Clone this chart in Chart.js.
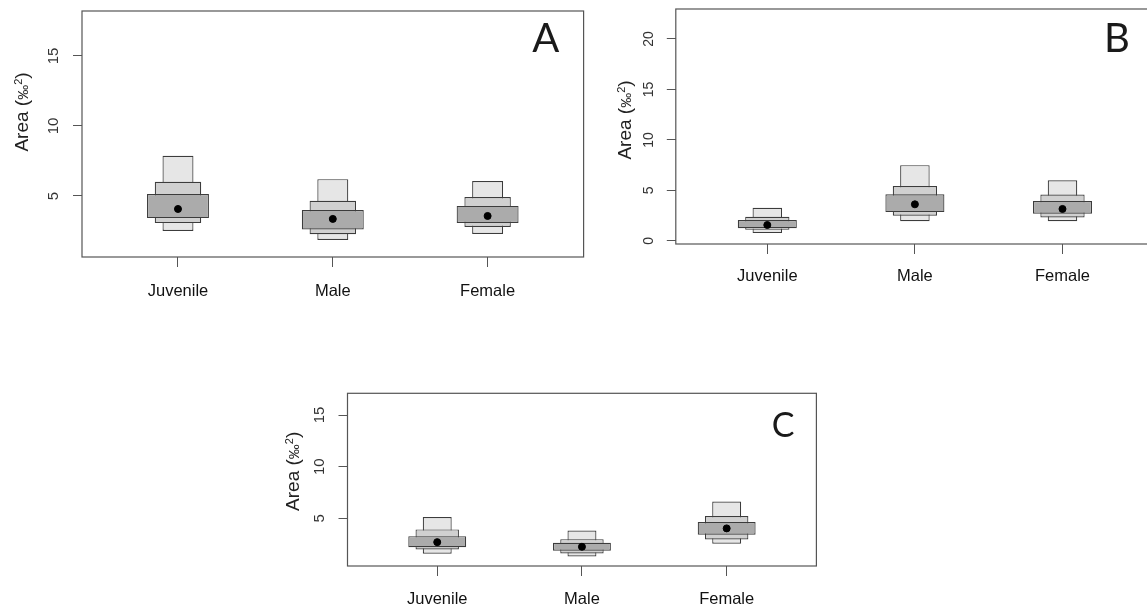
<!DOCTYPE html>
<html>
<head>
<meta charset="utf-8">
<script src="https://cdn.jsdelivr.net/npm/chart.js@4/dist/chart.umd.min.js"></script>
<style>
  body { margin: 0; background: #fff; overflow: hidden; }
  .panel { position: absolute; }
</style>
</head>
<body>
<div class="panel" style="left:0px; top:0px;"><canvas id="chartA" width="600" height="330"></canvas></div>
<div class="panel" style="left:580px; top:0px;"><canvas id="chartB" width="600" height="330"></canvas></div>
<div class="panel" style="left:270px; top:370px;"><canvas id="chartC" width="560" height="240"></canvas></div>
<script>
// categories shared by the three panels
const categories = ['Juvenile', 'Male', 'Female'];

// panel A: credible intervals [low, high] and modes
const a95 = [[2.5, 7.87], [1.86, 6.2], [2.29, 6.06]];
const a75 = [[3.06, 6.01], [2.27, 4.65], [2.79, 4.93]];
const a50 = [[3.42, 5.14], [2.61, 4.0], [3.07, 4.29]];
const aMode = [4.07, 3.36, 3.57];
const aTicks = [5, 10, 15];

// panel B
const b95 = [[0.78, 3.28], [1.95, 7.51], [1.95, 6.02]];
const b75 = [[1.1, 2.4], [2.5, 5.45], [2.33, 4.6]];
const b50 = [[1.27, 2.08], [2.86, 4.62], [2.69, 3.95]];
const bMode = [1.58, 3.63, 3.17];
const bTicks = [0, 5, 10, 15, 20];

// panel C
const c95 = [[1.57, 5.13], [1.31, 3.83], [2.54, 6.62]];
const c75 = [[1.99, 3.93], [1.6, 2.99], [2.96, 5.22]];
const c50 = [[2.21, 3.28], [1.86, 2.64], [3.42, 4.64]];
const cMode = [2.7, 2.25, 4.03];
const cTicks = [5, 10, 15];

// y axis title pieces: "Area (‰²)"
const yTitleParts = ['Area (', '‰', '2', ')'];

Chart.defaults.font.family = '"Liberation Sans", Arial, sans-serif';
Chart.defaults.color = '#333';

const framePlugin = {
    id: 'frame',
    afterDraw(chart, args, opts) {
        const { ctx, chartArea: a } = chart;
        ctx.save();
        ctx.strokeStyle = '#555';
        ctx.lineWidth = 1.2;
        ctx.strokeRect(a.left, a.top, a.right - a.left, a.bottom - a.top);

        // panel letter
        ctx.font = opts.size + 'px Lato, "Open Sans", sans-serif';
        ctx.fillStyle = '#1a1a1a';
        ctx.textAlign = 'center';
        ctx.textBaseline = 'alphabetic';
        ctx.fillText(opts.letter, a.right - opts.dx, a.top + opts.dy);

        // rotated axis title with small per-mille sign and superscript
        const fam = '"Liberation Sans", Arial, sans-serif';
        const pieces = [
            { t: yTitleParts[0], size: 19, rise: 0 },
            { t: yTitleParts[1], size: 15, rise: 0 },
            { t: yTitleParts[2], size: 11, rise: 6 },
            { t: yTitleParts[3], size: 19, rise: 0 }
        ];
        let total = 0;
        pieces.forEach(p => { ctx.font = p.size + 'px ' + fam; p.w = ctx.measureText(p.t).width; total += p.w; });
        ctx.translate(opts.titleX, a.top + opts.titleY);
        ctx.rotate(-Math.PI / 2);
        ctx.fillStyle = '#222';
        ctx.textAlign = 'left';
        ctx.textBaseline = 'alphabetic';
        let x = -total / 2;
        pieces.forEach(p => {
            ctx.font = p.size + 'px ' + fam;
            ctx.fillText(p.t, x, 7 - p.rise);
            x += p.w;
        });
        ctx.restore();
    }
};

function boxes(arr) {
    return arr.map((r, i) => ({ x: i + 1, y: r }));
}

function makePanel(id, d, s) {
    const boxStyle = { type: 'bar', grouped: false, categoryPercentage: 1, borderWidth: 1.2, borderColor: '#3c3c3c', borderSkipped: false };
    new Chart(document.getElementById(id), {
        type: 'bar',
        data: {
            datasets: [
                { type: 'scatter', data: d.mode.map((v, i) => ({ x: i + 1, y: v })), pointRadius: 3.5, pointBackgroundColor: '#000', pointBorderColor: '#000', order: 0 },
                Object.assign({}, boxStyle, { data: boxes(d.b50), barPercentage: 0.4, backgroundColor: '#ababab', order: 1 }),
                Object.assign({}, boxStyle, { data: boxes(d.b75), barPercentage: 0.3, backgroundColor: '#d0d0d0', order: 2 }),
                Object.assign({}, boxStyle, { data: boxes(d.b95), barPercentage: 0.2, backgroundColor: '#e6e6e6', order: 3 })
            ]
        },
        options: {
            responsive: false,
            animation: false,
            layout: { padding: { top: s.padTop, right: s.padRight, left: 0, bottom: 0 } },
            plugins: {
                legend: { display: false },
                tooltip: { enabled: false },
                frame: { letter: d.letter, dx: s.letterDx, dy: s.letterDy, size: s.letterSize, titleX: s.titleX, titleY: s.titleY }
            },
            scales: {
                x: {
                    type: 'linear',
                    min: 0.38,
                    max: 3.62,
                    offset: false,
                    afterBuildTicks: sc => { sc.ticks = categories.map((c, i) => ({ value: i + 1 })); },
                    afterFit: sc => { sc.height = s.xHeight; sc.paddingLeft = 0; sc.paddingRight = 0; },
                    border: { display: false },
                    grid: { offset: false, drawOnChartArea: false, drawTicks: true, tickLength: 10, color: '#555' },
                    ticks: {
                        padding: s.xLabelPad,
                        color: '#111',
                        font: { size: 16.5 },
                        maxRotation: 0,
                        callback: v => categories[v - 1]
                    }
                },
                y: {
                    min: d.yMin,
                    max: d.yMax,
                    afterBuildTicks: sc => { sc.ticks = d.ticks.map(v => ({ value: v })); },
                    afterFit: sc => { sc.width = s.yWidth; sc.paddingTop = 0; sc.paddingBottom = 0; },
                    border: { display: false },
                    grid: { drawOnChartArea: false, drawTicks: true, tickLength: 9, color: '#555' },
                    ticks: {
                        minRotation: 90,
                        maxRotation: 90,
                        crossAlign: 'center',
                        padding: s.tickPad,
                        color: '#333',
                        font: { size: s.tickSize },
                        callback: v => String(v)
                    }
                }
            }
        },
        plugins: [framePlugin]
    });
}

makePanel('chartA',
    { b95: a95, b75: a75, b50: a50, mode: aMode, ticks: aTicks, yMin: 0.64, yMax: 18.21, letter: 'A' },
    { padTop: 11, padRight: 16.4, yWidth: 82, xHeight: 73, titleX: 20.5, titleY: 101, tickPad: 11, tickSize: 15, xLabelPad: 15, letterDx: 37.9, letterDy: 40.7, letterSize: 40 });

makePanel('chartB',
    { b95: b95, b75: b75, b50: b50, mode: bMode, ticks: bTicks, yMin: -0.3, yMax: 22.97, letter: 'B' },
    { padTop: 9, padRight: 26, yWidth: 95.8, xHeight: 86, titleX: 43.5, titleY: 111, tickPad: 10.3, tickSize: 14, xLabelPad: 13, letterDx: 37, letterDy: 43, letterSize: 40 });

makePanel('chartC',
    { b95: c95, b75: c75, b50: c50, mode: cMode, ticks: cTicks, yMin: 0.39, yMax: 17.1, letter: 'C' },
    { padTop: 23.3, padRight: 13.6, yWidth: 77.5, xHeight: 44, titleX: 21.5, titleY: 78, tickPad: 10, tickSize: 15, xLabelPad: 14, letterDx: 33.4, letterDy: 43.4, letterSize: 34 });
</script>
</body>
</html>
